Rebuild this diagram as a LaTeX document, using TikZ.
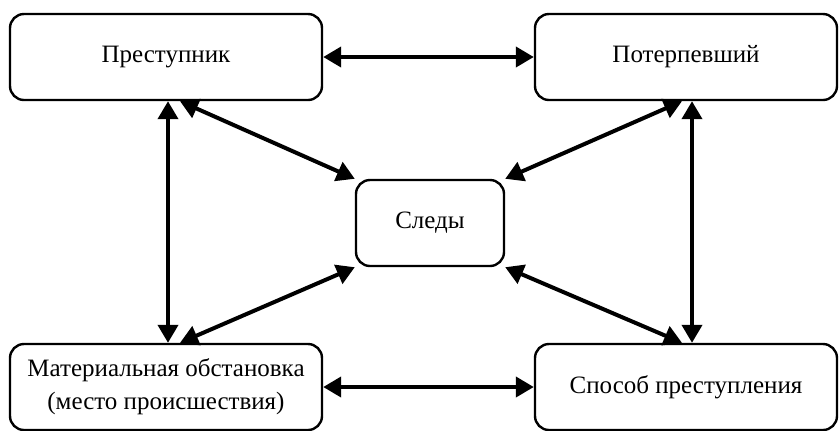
\documentclass[tikz,border=0pt]{standalone}
\usepackage{fontspec}
\setmainfont{Liberation Serif}
\usetikzlibrary{arrows.meta}

\tikzset{
  box/.style={draw,line width=1.2pt,rounded corners=7pt,minimum height=43pt,
    align=center,inner sep=0pt,font=\fontsize{12.5}{16.5}\selectfont},
  link/.style={line width=2pt,
    {Triangle[length=9pt,width=10pt]}-{Triangle[length=9pt,width=10pt]}}
}

\begin{document}
\begin{tikzpicture}[x=0.5pt,y=-0.5pt]
\useasboundingbox (0,0) rectangle (839,430);
% boxes
\node[box,minimum width=156pt] (prest) at (166,57) {Преступник};
\node[box,minimum width=151pt] (poter) at (686,57) {Потерпевший};
\node[box,minimum width=74pt] (sledy) at (430,223) {Следы};
\node[box,minimum width=156pt] (mater) at (166,387) {Материальная обстановка\\(место происшествия)};
\node[box,minimum width=151pt] (sposob) at (686,387) {Способ преступления};
% links
\draw[link] (prest) -- (poter);
\draw[link] (mater) -- (sposob);
\draw[link] ([xshift=1pt]prest.south) -- ([xshift=1pt]mater.north);
\draw[link] ([xshift=3pt]poter.south) -- ([xshift=3pt]sposob.north);
\draw[link] ([xshift=7pt]prest.south) -- (sledy.north west);
\draw[link] ([xshift=7pt]mater.north) -- (sledy.south west);
\draw[link] ([xshift=-2pt]poter.south) -- (sledy.north east);
\draw[link] ([xshift=-2pt]sposob.north) -- (sledy.south east);
\end{tikzpicture}
\end{document}
